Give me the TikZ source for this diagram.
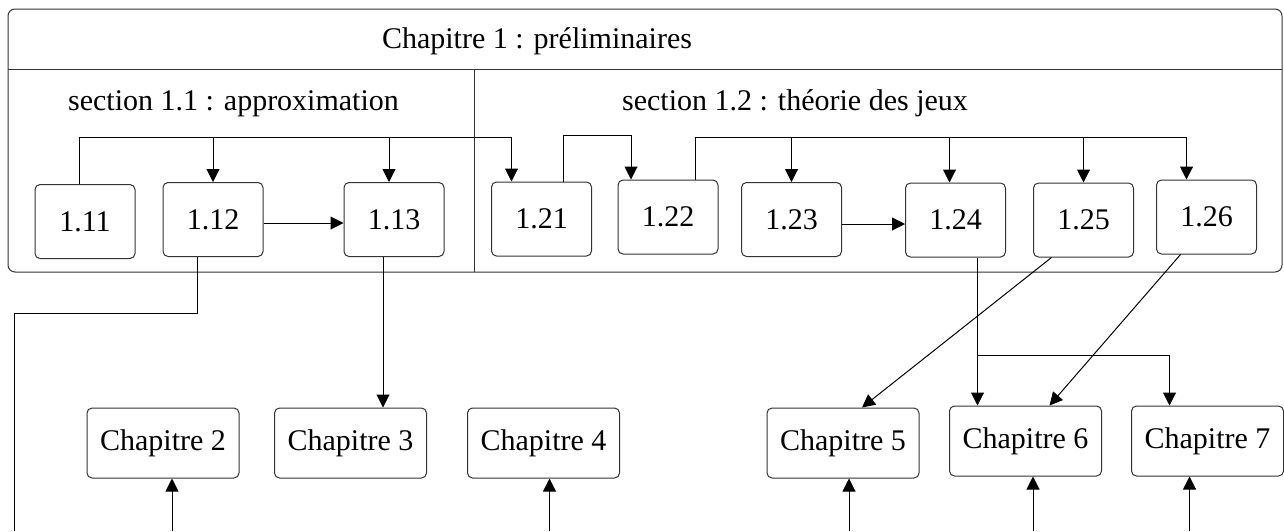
\documentclass[tikz,border=0pt]{standalone}
\usepackage{fontspec}
\setmainfont{Liberation Serif}
\usepackage{tikz}
\usetikzlibrary{arrows.meta}

\begin{document}
\begin{tikzpicture}[x=0.5pt,y=-0.5pt,
  line width=0.5pt,
  every node/.style={font=\fontsize{15}{18}\selectfont},
  secbox/.style={draw=black!80,rounded corners=2.5pt,minimum width=50pt,minimum height=37pt,inner sep=0pt},
  chapbox/.style={draw=black!80,rounded corners=2.5pt,minimum width=76pt,minimum height=35pt,inner sep=0pt},
  arr/.style={-{Triangle[length=6.5pt,width=6.5pt]}}]

\useasboundingbox (0,0) rectangle (1284,531);

% chapitre 1
\draw[black!80,rounded corners=3.5pt] (8,9) rectangle (1282,272);
\draw[black!80] (8,69) -- (1282,69);
\draw[black!80] (474,69) -- (474,272);
\node[anchor=base] (titre) at (537,48) {Chapitre 1 : préliminaires};
\node[anchor=base] (sec1) at (233.5,110) {section 1.1 : approximation};
\node[anchor=base] (sec2) at (795,110) {section 1.2 : théorie des jeux};

\node[secbox] (n11) at (85,221.5) {1.11};
\node[secbox] (n12) at (213,219.5) {1.12};
\node[secbox] (n13) at (394,219.5) {1.13};
\node[secbox] (n21) at (541.5,219) {1.21};
\node[secbox] (n22) at (668,217) {1.22};
\node[secbox] (n23) at (791.5,219.5) {1.23};
\node[secbox] (n24) at (955.5,220) {1.24};
\node[secbox] (n25) at (1083.5,220) {1.25};
\node[secbox] (n26) at (1206.5,217) {1.26};

% chapitres suivants
\node[chapbox] (c2) at (163,443) {Chapitre 2};
\node[chapbox] (c3) at (350.5,443) {Chapitre 3};
\node[chapbox] (c4) at (543.5,443) {Chapitre 4};
\node[chapbox] (c5) at (843,443) {Chapitre 5};
\node[chapbox] (c6) at (1025.5,441) {Chapitre 6};
\node[chapbox] (c7) at (1207.5,441) {Chapitre 7};

\coordinate (busA) at (0,137);
\coordinate (busB) at (0,135);
\coordinate (busC) at (0,137);
\coordinate (kneeA) at (14,313);
\coordinate (kneeB) at (0,355);
\coordinate (bottom) at (0,531);

% dependances dans le chapitre 1
\draw[arr] ([xshift=-3pt]n11.north) -- ([xshift=-3pt]n11.north |- busA) -| ([xshift=-15pt]n21.north);
\draw[arr] (n12.north |- busA) -- (n12.north);
\draw[arr] ([xshift=-2.5pt]n13.north |- busA) -- ([xshift=-2.5pt]n13.north);
\draw[arr] ([xshift=11pt]n21.north) -- ([xshift=11pt]n21.north |- busB) -| ([xshift=-18.5pt]n22.north);
\draw[arr] ([xshift=13.5pt]n22.north) -- ([xshift=13.5pt]n22.north |- busC) -| ([xshift=-10pt]n26.north);
\draw[arr] (n23.north |- busC) -- (n23.north);
\draw[arr] ([xshift=-3pt]n24.north |- busC) -- ([xshift=-3pt]n24.north);
\draw[arr] (n25.north |- busC) -- (n25.north);
\draw[arr] (n12.east |- 0,223) -- (n13.west |- 0,223);
\draw[arr] (n23.east |- 0,224) -- (n24.west |- 0,224);

% vers les autres chapitres
\draw ([xshift=-8pt]n12.south) |- (kneeA) -- (kneeA |- bottom);
\draw[arr] ([xshift=-5.5pt]n13.south) -- ([xshift=-5.5pt]n13.south |- c3.north);
\draw[arr] ([xshift=11pt]n24.south) -- ([xshift=11pt]n24.south |- c6.north);
\draw[arr] ([xshift=11pt]n24.south |- kneeB) -| ([xshift=-19pt]c7.north);
\draw[arr] ([xshift=-16pt]n25.south) -- ([xshift=9.5pt]c5.north);
\draw[arr] ([xshift=-13pt]n26.south) -- ([xshift=12pt]c6.north);

\draw[arr] ([xshift=4.5pt]c2.south |- bottom) -- ([xshift=4.5pt]c2.south);
\draw[arr] ([xshift=3pt]c4.south |- bottom) -- ([xshift=3pt]c4.south);
\draw[arr] ([xshift=3pt]c5.south |- bottom) -- ([xshift=3pt]c5.south);
\draw[arr] ([xshift=3.75pt]c6.south |- bottom) -- ([xshift=3.75pt]c6.south);
\draw[arr] ([xshift=-9pt]c7.south |- bottom) -- ([xshift=-9pt]c7.south);

\end{tikzpicture}
\end{document}
